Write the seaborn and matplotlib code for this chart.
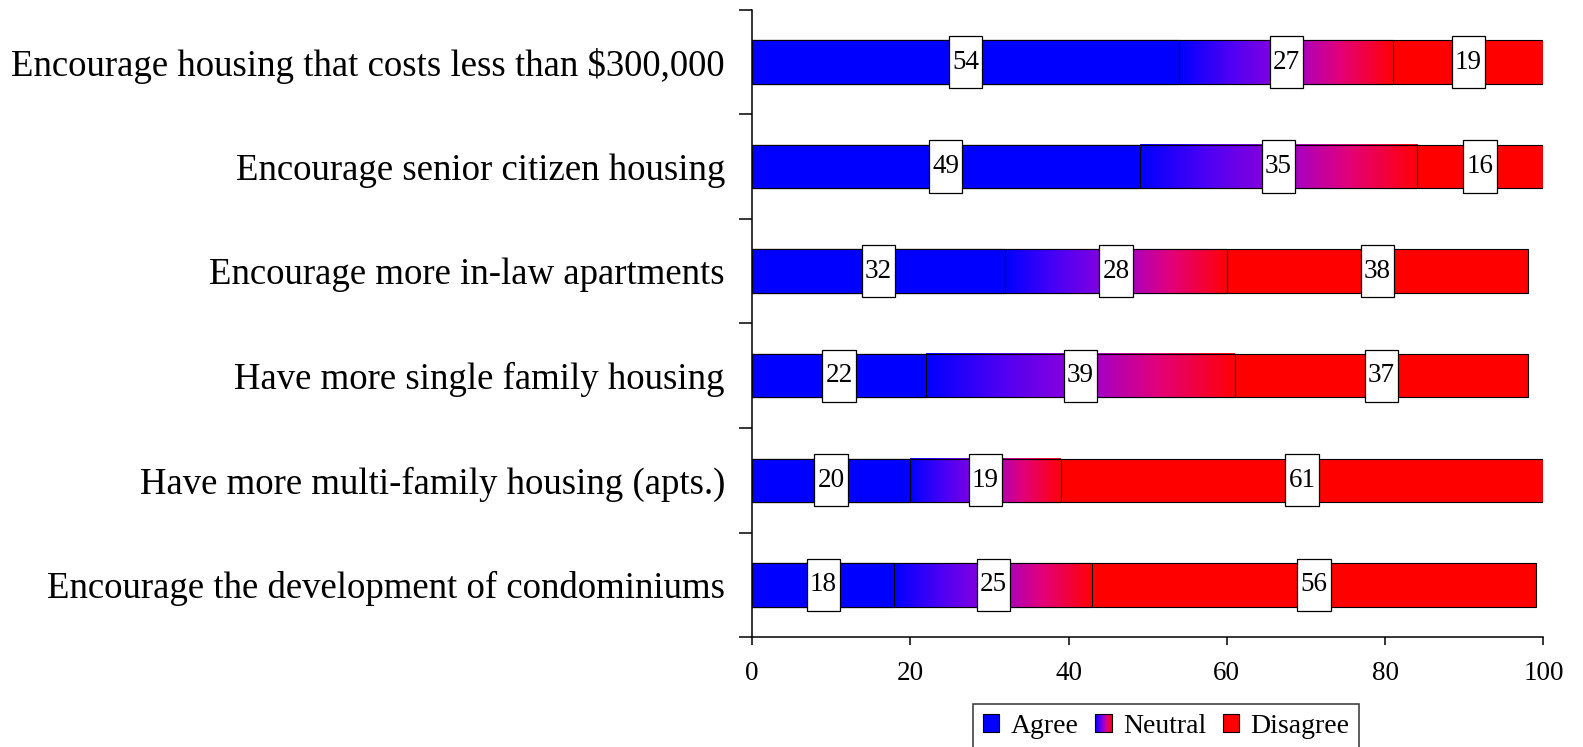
import numpy as np
import pandas as pd
import seaborn as sns
import matplotlib.pyplot as plt
from matplotlib.colors import LinearSegmentedColormap
from matplotlib.patches import Rectangle
from matplotlib.legend_handler import HandlerBase

items = ['Encourage housing that costs less than $300,000',
         'Encourage senior citizen housing',
         'Encourage more in-law apartments',
         'Have more single family housing',
         'Have more multi-family housing (apts.)',
         'Encourage the development of condominiums']
agree = [54, 49, 32, 22, 20, 18]
neutral = [27, 35, 28, 39, 19, 25]
disagree = [19, 16, 38, 37, 61, 56]
xticks = [0, 20, 40, 60, 80, 100]

sns.set_style('ticks')
plt.rcParams['font.family'] = ['Liberation Serif', 'DejaVu Serif']
plt.rcParams['text.color'] = 'black'

df = pd.DataFrame({'item': items, 'agree': agree, 'neutral': neutral, 'disagree': disagree})
df['an'] = df['agree'] + df['neutral']
df['total'] = df['an'] + df['disagree']

# blue -> violet -> magenta -> red, brighter than a plain rgb blend
cmap = LinearSegmentedColormap.from_list(
    'neutral', [(0, '#0000ff'), (0.25, '#5000f4'), (0.5, '#9400d8'),
                (0.75, '#e2007a'), (1, '#ff0008')])

fig, ax = plt.subplots(figsize=(15.83, 7.47), dpi=100)
fig.subplots_adjust(left=0.475, right=0.975, top=0.987, bottom=0.147)

bh = 0.415
# stacked by overlapping: total (red), agree+neutral (gradient), agree (blue)
sns.barplot(data=df, x='total', y='item', color='#ff0000', width=bh, saturation=1,
            edgecolor='black', linewidth=0.8, ax=ax, zorder=1)
grad = np.linspace(0, 1, 256).reshape(1, -1)
for i, row in df.iterrows():
    ax.imshow(grad, cmap=cmap, aspect='auto', zorder=2,
              extent=[row['agree'], row['an'], i + bh / 2, i - bh / 2])
sns.barplot(data=df, x='an', y='item', color='black', width=bh, fill=False,
            linewidth=0.8, ax=ax, zorder=3)
sns.barplot(data=df, x='agree', y='item', color='#0000ff', width=bh, saturation=1,
            edgecolor='black', linewidth=0.8, ax=ax, zorder=4)

# value boxes
for i, row in df.iterrows():
    starts = [0, row['agree'], row['an']]
    vals = [row['agree'], row['neutral'], row['disagree']]
    for s, v in zip(starts, vals):
        cx = s + v / 2
        ax.add_patch(Rectangle((cx - 2.1, i - 0.25), 4.2, 0.5, fc='white', ec='black',
                               lw=0.9, zorder=5))
        ax.text(cx, i, str(v), ha='center', va='center', fontsize=19.5, zorder=6)

ax.set_xlim(0, 100)
ax.set_ylim(5.5, -0.5)
ax.set_xticks(xticks)
ax.set_yticks(range(len(items)))
ax.set_yticklabels(items)
ax.set_yticks(np.arange(-0.5, len(items), 1), minor=True)
ax.set_xlabel('')
ax.set_ylabel('')
ax.tick_params(axis='y', which='major', length=0, pad=19.4, labelsize=26.5, colors='black')
ax.tick_params(axis='y', which='minor', length=9.4, width=1.1, color='black')
ax.tick_params(axis='x', length=5.8, width=1.1, pad=11, labelsize=19.5, colors='black')
sns.despine(ax=ax)
for sp in ['left', 'bottom']:
    ax.spines[sp].set_color('black')
    ax.spines[sp].set_linewidth(1.1)


class GradientHandler(HandlerBase):
    def create_artists(self, legend, orig_handle, xdescent, ydescent, width, height, fontsize, trans):
        n = 24
        arts = []
        for k in range(n):
            arts.append(Rectangle((-xdescent + width * k / n, -ydescent), width / n + 0.2, height,
                                  fc=cmap(k / (n - 1)), ec='none', transform=trans))
        arts.append(Rectangle((-xdescent, -ydescent), width, height, fc='none', ec='black',
                              lw=0.8, transform=trans))
        return arts


h_agree = Rectangle((0, 0), 1, 1, fc='#0000ff', ec='black', lw=0.8)
h_neutral = Rectangle((0, 0), 1, 1, fc='#8000ff', ec='black', lw=0.8)
h_dis = Rectangle((0, 0), 1, 1, fc='#ff0000', ec='black', lw=0.8)
leg = fig.legend([h_agree, h_neutral, h_dis], ['Agree', 'Neutral', 'Disagree'],
                 handler_map={h_neutral: GradientHandler()},
                 loc='upper left', bbox_to_anchor=(973 / 1583, 1 - 704 / 747), ncol=3,
                 fontsize=20, frameon=True, fancybox=False, edgecolor='black',
                 handlelength=0.6, handleheight=0.6, handletextpad=0.4,
                 columnspacing=0.6, borderpad=0.35, borderaxespad=0)
leg.get_frame().set_linewidth(1.1)

fig.savefig('out.png', dpi=100)
